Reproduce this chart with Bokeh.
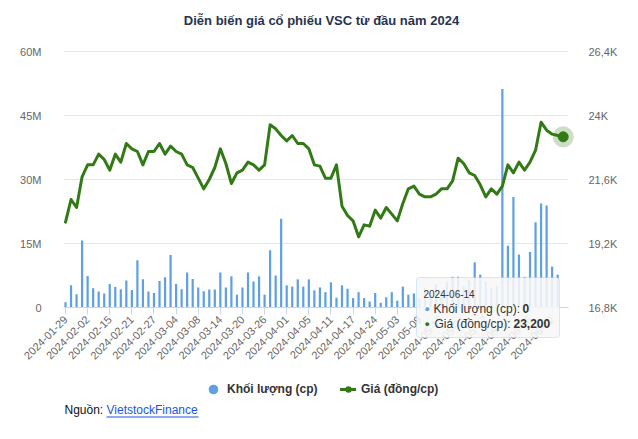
import pandas as pd
from math import pi
from bokeh.plotting import figure
from bokeh.models import (Range1d, LinearAxis, FixedTicker, Label, BoxAnnotation,
                          Legend, LegendItem)
from bokeh.embed import file_html
from bokeh.resources import INLINE

# ---------------- data ----------------
holidays = ["2024-02-08", "2024-02-09", "2024-02-12", "2024-02-13", "2024-02-14",
            "2024-04-18", "2024-04-29", "2024-04-30", "2024-05-01"]
dates = [d.strftime("%Y-%m-%d") for d in pd.bdate_range("2024-01-29", "2024-06-14")
         if d.strftime("%Y-%m-%d") not in holidays]

volume_m = [1.25, 5.2, 3.1, 15.7, 7.4, 4.5, 3.75, 3.3, 5.5, 4.8,
            4.3, 6.3, 4.1, 11.1, 6.6, 3.75, 3.4, 6.2, 7.1, 12.3,
            5.5, 4.3, 8.2, 6.7, 4.7, 3.8, 4.2, 4.2, 8.2, 4.7,
            7.3, 3.0, 4.7, 8.2, 6.1, 7.3, 3.0, 13.4, 7.5, 20.8,
            5.2, 4.9, 6.6, 4.9, 6.6, 4.0, 4.7, 3.6, 5.9, 2.3,
            5.2, 4.4, 2.2, 3.6, 2.2, 1.4, 3.4, 1.1, 2.4, 3.6,
            1.6, 4.9, 3.0, 3.3, 2.0, 4.5, 3.0, 5.5, 4.0, 6.0,
            7.2, 7.2, 5.0, 6.5, 10.6, 7.7, 6.0, 4.5, 5.0, 51.2,
            14.5, 25.9, 12.4, 7.2, 13.0, 20.0, 24.4, 23.9, 9.6, 7.7,
            0.0]

price = [20000, 20850, 20550, 21700, 22150, 22150, 22550, 22350, 21950, 22550,
         22250, 22950, 22750, 22650, 22150, 22650, 22650, 22950, 22550, 22850,
         22650, 22550, 22150, 22050, 21650, 21250, 21600, 22050, 22750, 22200,
         21450, 21850, 21950, 22250, 22150, 21950, 22150, 23650, 23500, 23250,
         23050, 23250, 22950, 22950, 22750, 22150, 22100, 21650, 21650, 22150,
         20600, 20250, 20050, 19450, 19900, 19850, 20450, 20150, 20550, 20300,
         20050, 20700, 21250, 21350, 21050, 20950, 20950, 21050, 21250, 21250,
         21550, 22400, 22200, 21850, 21750, 21400, 20950, 21250, 21050, 21350,
         22150, 21850, 22250, 21950, 22250, 22700, 23750, 23450, 23300, 23250,
         23200]

vol_ticks = [0, 15e6, 30e6, 45e6, 60e6]
vol_tick_labels = ["0", "15M", "30M", "45M", "60M"]
price_ticks = [16800, 19200, 21600, 24000, 26400]
price_tick_labels = ["16,8K", "19,2K", "21,6K", "24K", "26,4K"]

title_text = "Diễn biến giá cổ phiếu VSC từ đầu năm 2024"
vol_name = "Khối lượng (cp)"
price_name = "Giá (đồng/cp)"
source_label = "Nguồn:"
source_name = "VietstockFinance"

# ---------------- layout helpers (page pixels -> data) ----------------
FONT = "Liberation Sans"
BLUE = "#5f9fe3"
GREEN = "#327a16"
AXIS_TXT = "#666666"

CW, CH = 630, 432                 # canvas size
PL, PR, PT, PB = 63, 568, 51, 307  # chart area in page px
X_FIRST, DX = 65.0, 5.53           # px of first category, px per category

def px2x(px):
    return (px - X_FIRST) / DX

def py2v(py):
    return (PB - py) / (PB - PT) * (vol_ticks[-1] - vol_ticks[0])

def py2p(py):
    return price_ticks[0] + (PB - py) / (PB - PT) * (price_ticks[-1] - price_ticks[0])

idx = list(range(len(dates)))
volume = [v * 1e6 for v in volume_m]

p = figure(width=CW, height=CH, output_backend="svg", toolbar_location=None,
           x_range=Range1d(px2x(0), px2x(CW)), y_range=Range1d(py2v(CH), py2v(0)),
           min_border=0, min_border_left=0, min_border_right=0,
           min_border_top=0, min_border_bottom=0)
p.title.visible = False
p.outline_line_color = None
p.background_fill_color = "white"
p.border_fill_color = "white"
p.xgrid.visible = False
p.ygrid.visible = False
p.extra_y_ranges = {"price": Range1d(py2p(CH), py2p(0))}

# horizontal grid lines across the chart area only
p.segment(x0=px2x(PL), x1=px2x(PR), y0=vol_ticks, y1=vol_ticks,
          line_color="#e6e6e6", line_width=1)

# left axis
ya = p.yaxis[0]
ya.fixed_location = px2x(PL)
ya.ticker = FixedTicker(ticks=vol_ticks)
ya.major_label_overrides = {int(t): l for t, l in zip(vol_ticks, vol_tick_labels)}
ya.axis_line_color = None
ya.major_tick_line_color = None
ya.minor_tick_line_color = None
ya.major_label_standoff = 16
ya.major_label_text_font = FONT
ya.major_label_text_font_size = "11px"
ya.major_label_text_color = AXIS_TXT

# right axis
ra = LinearAxis(y_range_name="price", ticker=FixedTicker(ticks=price_ticks),
                fixed_location=px2x(PR))
ra.major_label_overrides = {t: l for t, l in zip(price_ticks, price_tick_labels)}
ra.axis_line_color = None
ra.major_tick_line_color = None
ra.minor_tick_line_color = None
ra.major_label_standoff = 14
ra.major_label_text_font = FONT
ra.major_label_text_font_size = "11px"
ra.major_label_text_color = AXIS_TXT
p.add_layout(ra, "right")

# x axis
xa = p.xaxis[0]
xa.fixed_location = 0
xa.bounds = (px2x(PL), px2x(PR))
tick_idx = list(range(0, len(dates), 4))
xa.ticker = FixedTicker(ticks=tick_idx)
xa.major_label_overrides = {i: dates[i] for i in tick_idx}
xa.major_label_orientation = pi / 4
xa.axis_line_color = "#ccd6eb"
xa.major_tick_line_color = "#ccd6eb"
xa.major_tick_in = 0
xa.major_tick_out = 7
xa.minor_tick_line_color = None
xa.major_label_standoff = 3
xa.major_label_text_font = FONT
xa.major_label_text_font_size = "11px"
xa.major_label_text_color = AXIS_TXT

# ---------------- glyphs ----------------
p.vbar(x=idx, top=volume, width=0.4, fill_color=BLUE, line_color=None)
line_r = p.line(idx, price, y_range_name="price", line_width=3, line_color=GREEN,
                line_join="round", line_cap="round")
p.scatter([idx[-1]], [price[-1]], y_range_name="price", size=21, fill_color=GREEN,
          fill_alpha=0.25, line_color=None)
p.scatter([idx[-1]], [price[-1]], y_range_name="price", size=10, fill_color=GREEN,
          line_color=GREEN)

# ---------------- legend ----------------
# legend-only marker renderers (their single point lies outside the visible ranges)
off_x, off_y = px2x(-500), py2v(-500)
vol_leg = p.scatter([off_x], [off_y], marker="circle", size=11, fill_color=BLUE,
                    line_color=None)
dot_leg = p.scatter([off_x], [py2p(-500)], marker="circle", size=7, fill_color=GREEN,
                    line_color=None, y_range_name="price")

def mk_legend(items, left_px, bottom_px, gw, gh, standoff):
    lg = Legend(items=items, location=(left_px, CH - bottom_px), orientation="horizontal",
                glyph_width=gw, glyph_height=gh, label_height=gh, label_standoff=standoff,
                padding=0, margin=0, spacing=0, border_line_color=None,
                background_fill_alpha=0, label_text_font=FONT,
                label_text_font_size="12px", label_text_font_style="bold",
                label_text_color="#333333")
    p.add_layout(lg)

mk_legend([LegendItem(label=vol_name, renderers=[vol_leg])], 201, 401, 24, 24, 2)
mk_legend([LegendItem(label=price_name, renderers=[line_r, dot_leg])], 340, 397, 16, 16, 5)

# ---------------- texts ----------------
def lab(px, py, text, size="12px", color="#333333", style="normal", align="left",
        level="annotation"):
    l = Label(x=px2x(px), y=py2v(py), text=text, text_font=FONT, text_font_size=size,
              text_color=color, text_font_style=style, text_align=align,
              text_baseline="middle", level=level)
    p.add_layout(l)

lab(321, 20, title_text, size="13px", color="#28334f", style="bold", align="center")
lab(64, 409, source_label, color="#111111")
lab(106, 409, source_name, color="#1a56db")
p.add_layout(BoxAnnotation(left=px2x(106), right=px2x(198), top=py2v(416), bottom=py2v(417),
                           fill_color="#1a56db", fill_alpha=1, line_color=None))

# tooltip of the hovered last point
p.add_layout(BoxAnnotation(left=px2x(416), right=px2x(559), top=py2v(277), bottom=py2v(337),
                           fill_color="#f7f7f7", fill_alpha=0.88, line_color="#7cb5ec",
                           line_width=1, border_radius=3, level="overlay"))
lab(423, 293, dates[-1], size="10px", level="overlay")
lab(424, 308, "●", size="9px", color=BLUE, level="overlay")
lab(433, 308, vol_name + ": ", level="overlay")
lab(522, 308, f"{volume_m[-1]:,.0f}", style="bold", level="overlay")
lab(424, 323, "●", size="9px", color=GREEN, level="overlay")
lab(434, 323, price_name + ": ", level="overlay")
lab(513, 323, f"{price[-1]:,}", style="bold", level="overlay")

open("out.html", "w").write(file_html(p, INLINE))
